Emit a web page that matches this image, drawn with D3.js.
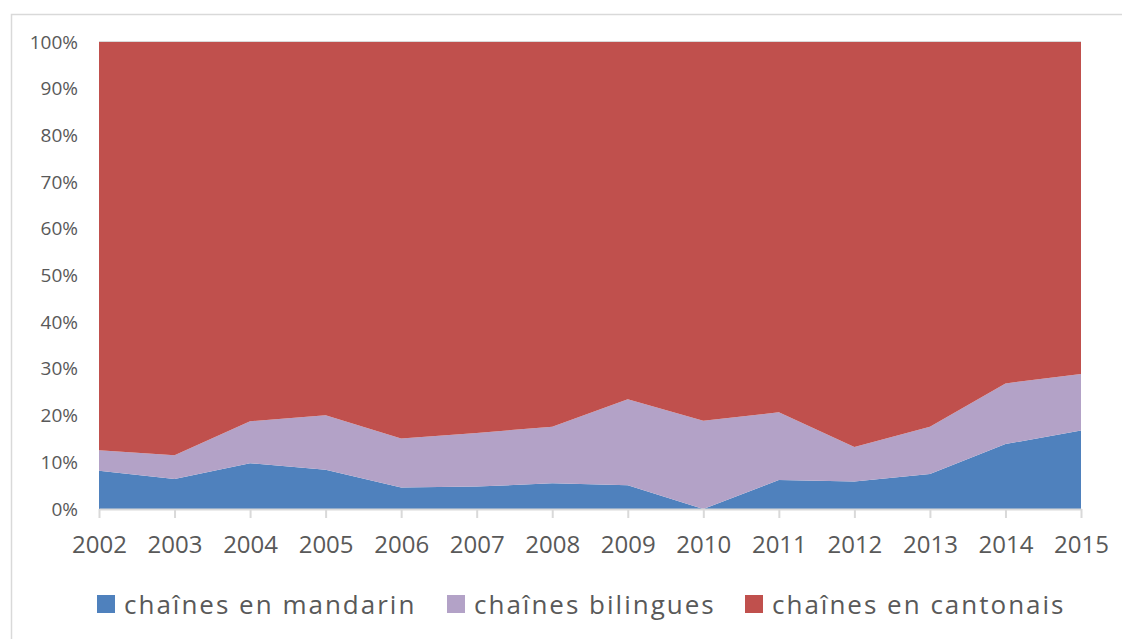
<!DOCTYPE html>
<head>
<meta charset="utf-8">
<script src="https://d3js.org/d3.v7.min.js"></script>
<style>
    body { margin: 0; background: #fff; }
    text {
        font-family: "Open Sans", sans-serif;
        fill: #595959;
    }
    .yAxis text { font-size: 19px; }
    .xAxis text { font-size: 24px; }
    .legend text { font-size: 26px; letter-spacing: 2px; }
    .xAxis path, .xAxis line { stroke: #d9d9d9; stroke-width: 2px; }
</style>
</head>
<body>
<svg width="1122" height="639"></svg>
<script>
    // years on x axis
    var years = [2002, 2003, 2004, 2005, 2006, 2007, 2008, 2009, 2010, 2011, 2012, 2013, 2014, 2015];
    // shares in %
    var mandarin  = [8.2, 6.4, 9.8, 8.4, 4.6, 4.8, 5.5, 5.1, 0.0, 6.2, 5.9, 7.5, 13.9, 16.8];
    var bilingual = [4.4, 5.1, 9.0, 11.7, 10.5, 11.5, 12.1, 18.4, 18.9, 14.5, 7.4, 10.1, 13.0, 12.1];
    var cantonese = [87.4, 88.5, 81.2, 79.9, 84.9, 83.7, 82.4, 76.5, 81.1, 79.3, 86.7, 82.4, 73.1, 71.1];
    var seriesNames = ["chaînes en mandarin", "chaînes bilingues", "chaînes en cantonais"];
    var colors = ["#4f81bd", "#b3a2c7", "#c0504d"];
    var yTicks = [0, 10, 20, 30, 40, 50, 60, 70, 80, 90, 100];

    var svg = d3.select("svg");

    // chart frame
    svg.append("rect")
        .attr("x", 11.5).attr("y", 14.5)
        .attr("width", 1130).attr("height", 640)
        .attr("fill", "#fff")
        .attr("stroke", "#d9d9d9")
        .attr("stroke-width", 1.5);

    var x = d3.scaleLinear()
        .domain([2002, 2015])
        .range([99, 1081]);

    var y = d3.scaleLinear()
        .domain([0, 100])
        .range([509, 42]);

    var data = years.map(function (yr, i) {
        return { year: yr, m: mandarin[i], b: bilingual[i], c: cantonese[i] };
    });

    var stacked = d3.stack()
        .keys(["m", "b", "c"])
        .offset(d3.stackOffsetExpand)(data);

    var area = d3.area()
        .x(function (d) { return x(d.data.year); })
        .y0(function (d) { return y(d[0] * 100); })
        .y1(function (d) { return y(d[1] * 100); });

    svg.append("g")
        .selectAll("path")
        .data(stacked)
        .enter().append("path")
        .attr("fill", function (d, i) { return colors[i]; })
        .attr("d", area);

    // top gridline
    svg.append("line")
        .attr("x1", x(2002)).attr("x2", x(2015))
        .attr("y1", y(100) - 0.5).attr("y2", y(100) - 0.5)
        .attr("stroke", "#d9d9d9");

    // y axis labels
    var yAxis = svg.append("g")
        .attr("class", "yAxis")
        .attr("transform", "translate(78,0)")
        .call(d3.axisLeft(y).tickValues(yTicks).tickSize(0).tickPadding(0)
            .tickFormat(function (d) { return d + "%"; }));
    yAxis.select(".domain").remove();

    // x axis
    svg.append("g")
        .attr("class", "xAxis")
        .attr("transform", "translate(0," + y(0) + ")")
        .call(d3.axisBottom(x).tickValues(years).tickSize(9).tickSizeOuter(0).tickPadding(18)
            .tickFormat(d3.format("d")));

    // legend
    var legendX = [97, 447, 745];
    var legend = svg.append("g").attr("class", "legend");
    seriesNames.forEach(function (name, i) {
        legend.append("rect")
            .attr("x", legendX[i]).attr("y", 595)
            .attr("width", 18).attr("height", 18)
            .attr("fill", colors[i]);
        legend.append("text")
            .attr("x", legendX[i] + 27).attr("y", 614)
            .text(name);
    });
</script>
</body>
